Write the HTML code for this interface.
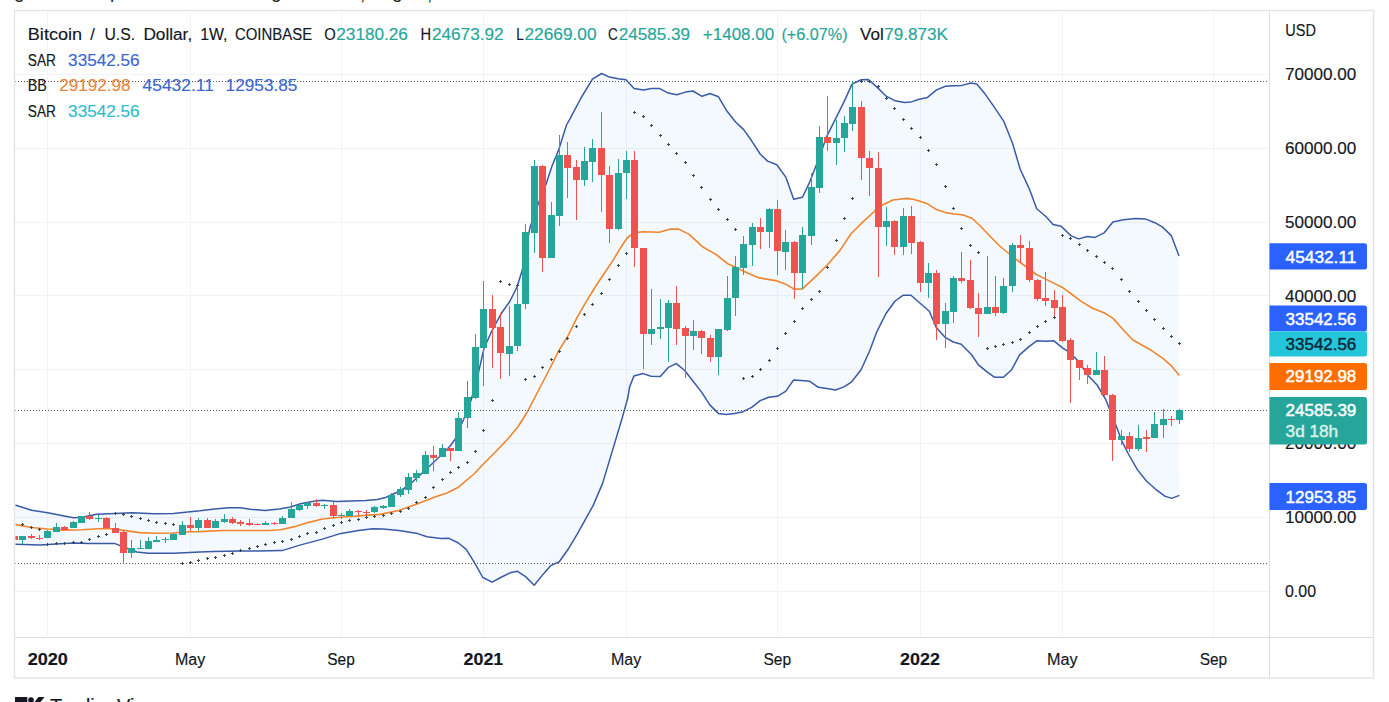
<!DOCTYPE html><html><head><meta charset="utf-8"><title>BTCUSD</title><style>
html,body{margin:0;padding:0;background:#fff;}body{width:1389px;height:702px;overflow:hidden;font-family:"Liberation Sans",sans-serif;}svg{display:block;}text{font-family:"Liberation Sans",sans-serif;font-size:16px;}
</style></head><body>
<svg width="1389" height="702" viewBox="0 0 1389 702">
<rect width="1389" height="702" fill="#fff"/>
<g fill="#222" font-size="19px"><text x="14" y="-2" style="font-size:19px">g</text><text x="110" y="-2" style="font-size:19px">p</text><text x="271" y="-2" style="font-size:19px">g</text><text x="360" y="0" style="font-size:19px">,</text><text x="392" y="-2" style="font-size:19px">g</text><text x="427" y="0" style="font-size:19px">,</text></g>
<rect x="14.5" y="10.5" width="1359" height="667.5" fill="#fff" stroke="#e3e4e8" stroke-width="1.4"/>
<defs><clipPath id="cp"><rect x="15.5" y="11.5" width="1253.5" height="625.5"/></clipPath></defs>
<g stroke="#f2f3f6" stroke-width="1" shape-rendering="crispEdges">
<line x1="47.5" y1="11" x2="47.5" y2="637"/>
<line x1="190.5" y1="11" x2="190.5" y2="637"/>
<line x1="341.5" y1="11" x2="341.5" y2="637"/>
<line x1="483.5" y1="11" x2="483.5" y2="637"/>
<line x1="626.5" y1="11" x2="626.5" y2="637"/>
<line x1="777.5" y1="11" x2="777.5" y2="637"/>
<line x1="920.5" y1="11" x2="920.5" y2="637"/>
<line x1="1062.5" y1="11" x2="1062.5" y2="637"/>
<line x1="1213.5" y1="11" x2="1213.5" y2="637"/>
<line x1="15" y1="74" x2="1269" y2="74"/>
<line x1="15" y1="148" x2="1269" y2="148"/>
<line x1="15" y1="222" x2="1269" y2="222"/>
<line x1="15" y1="295.7" x2="1269" y2="295.7"/>
<line x1="15" y1="369.6" x2="1269" y2="369.6"/>
<line x1="15" y1="443.5" x2="1269" y2="443.5"/>
<line x1="15" y1="517.4" x2="1269" y2="517.4"/>
<line x1="15" y1="591.3" x2="1269" y2="591.3"/>
</g>
<g clip-path="url(#cp)">
<polygon points="14.5,505.0 15.8,505.2 31.6,510.2 47.7,512.8 60.4,515.3 73.4,517.7 82,517.2 96.4,514.3 114.4,513.4 132.4,512.8 154,513.8 173.4,513.4 190,511.7 200,510.8 214.4,508.9 228.8,507.7 240.3,507.7 250.4,509.2 264.8,510.6 279.2,508.9 289.3,507.2 300.8,503.8 312.3,501.4 322.4,500.2 336.8,501.4 351.2,501.1 365.6,500.5 377.1,499.5 385.7,497.4 391.5,494.8 400,491.0 408.5,485.5 416.8,478.0 425.6,469.8 434,462.0 442.4,454.0 450.6,445.5 455.5,438.5 459,430 464,418.5 467.5,409 471.2,400 475.5,384 478.5,372.6 483.8,349 491.3,332 501,313.8 509.5,302 517,287 522.3,270 525.5,250 530,227.6 537,207 546,184.3 552,166 558.6,150.1 566.5,125 570,118.8 580.7,98.5 592.4,79.2 601.6,73.5 609.5,77.1 618.1,78.8 626,79.7 634.1,88.4 643.7,89.9 651.2,88.6 659.3,88.4 668.3,93.1 676.8,94.8 685.4,92.1 692.9,91 702.1,96.3 710,93.5 718.5,96.8 727.1,111.3 735.6,122 743.5,129.4 751.6,140.8 760.2,154 767.6,161.1 776.8,164.7 785.8,177.1 793.7,199.3 802.5,197.2 809.8,181.7 817.8,161.2 826.9,136.1 836,117.9 844,101.9 852,84.1 861.1,79.8 868.4,79.6 877,87.1 886.2,96.2 895.3,100.8 904.4,102.4 911.2,101.9 919.2,99.2 927.5,97.4 936.5,89.9 945.4,86.3 953.5,85.8 961.9,85.4 970.9,83 976.8,83.9 984.3,92.9 994.8,107.9 1003.8,121.3 1012.7,143.8 1020.2,169.2 1029.2,188.6 1036.7,208.7 1045.6,216.2 1053.1,224.5 1061.2,226.3 1071.1,235.9 1078.5,238.9 1087.5,236.5 1095,237.4 1104,232.9 1112.9,222.1 1123.4,219.7 1135.4,218.5 1145.8,219.1 1154.8,222.7 1162.3,226.9 1171.3,235.6 1179,255.9 1179.4,495.4 1171.7,498.4 1164.8,496.1 1155.7,489.3 1146.6,481.3 1137.5,469.9 1128.4,454 1121.5,440.3 1114.7,422 1105.6,399.3 1097.1,385 1088,375.4 1078.9,361.8 1069.8,352.6 1062.9,348.1 1053.8,340.8 1045.8,341.2 1036.7,340.8 1028.7,346.9 1019.6,354.9 1011.7,369.7 1003.4,377.2 994.3,377.2 987,371.8 978.4,364.8 971.4,354.5 961.2,344.3 953.2,342 945.2,337.4 936.1,327.2 929.3,311.2 920.1,303.3 911,295.3 903,295.3 895.1,301 886,313.5 876.8,331.8 869.6,351 861.1,369.8 851.7,381.8 844,386.9 835.4,390 826.9,388.6 818.3,387.3 809.8,381.3 801.2,380.6 793.5,380.1 785.9,391.2 777.3,396.3 768.8,397.2 760.2,400.6 751.7,407.4 743.1,411.7 734.6,413.4 726,414.6 718.3,413.4 709.8,404.9 702.1,392.9 693.5,381.8 684.7,370.5 676.3,363.6 668.3,367.4 660.3,376.6 651,376.3 643.1,373.6 634,375.9 629.6,387 627.6,398.8 621.4,420.8 612,452.1 602.6,483.4 593.2,505.4 577.5,533.6 568.1,549.3 559.3,561.8 550.8,565.6 543,574.4 534.2,585.3 525.8,576.9 517.3,571.2 510.1,572.8 500.7,577.5 492.2,582.2 482.8,577.5 474,561.8 466.2,549.3 458.4,543 449,538.3 441.1,538.6 427,536.7 417.6,533.6 398.8,530.5 382.9,528.9 372.8,528.8 358.4,530.5 341.1,533.4 322.4,539.1 300.8,544.9 282.1,550.6 257.6,550.9 240.3,550.9 214.4,551.4 200,552.1 173.4,553.2 148.5,553.2 136.7,552 123.5,547 114.5,543.4 89.6,543.4 73.5,542.9 56.4,544.1 40,545.0 14.5,544.3" fill="#2196f3" fill-opacity="0.055"/>
<polyline points="14.5,524.4 15.8,524.6 31.6,527.5 47.7,529 64.4,530.1 82,529.7 98.1,528.7 106.5,528.5 114.5,529 123.5,530.4 139.6,532.6 156.6,533.3 173.4,533 190,531.8 200,531.6 221.6,530.5 243.2,530.5 269.1,530.5 280.6,529.8 293.6,526.9 308,522.6 322.4,519 336.8,517.5 351.2,516.5 365.6,515.4 380,514.4 398.8,510.5 417.6,503.8 436.4,496.6 447,493.0 458.4,487.2 474,474 483.4,464.0 495.4,452.0 508.2,438.5 518.2,426.5 526.8,412.8 538.2,391.0 549.6,369 558.7,350.8 567.9,336 577,317.7 586.1,301.8 595.2,287 604.3,273.3 613.5,259.6 620.3,248.2 627.1,238 634,232.7 643.1,231.8 659.2,232.3 670.6,229.1 678.6,229.1 688.8,234.1 702.5,246.7 716.2,254.6 727.6,263.7 735.5,267.2 748,273.3 759.5,277.9 777,280.9 786.3,284.6 794.4,289.3 802.4,288.9 814,278.1 827,265.2 840,250.4 851,233.7 862.2,222.6 874.3,211.5 879.1,206.4 886.2,203.3 892.8,200 897.6,199.5 906.5,198.4 913,199.3 920,201.3 927.5,203.8 936.5,209.6 945.4,212.6 954.4,214 963.4,215 972.3,218.5 981.3,227.0 991.8,238.0 999.1,245.5 1008.2,253.0 1017.4,260.3 1026.5,267.0 1035.6,274 1044.7,278.6 1053.8,283.1 1062.9,287.7 1072.1,294.5 1081.2,301.4 1092.6,308.2 1104,312.7 1113.1,318.4 1122.2,328.7 1132.9,340 1151.2,350.3 1162.6,358.2 1171.7,366.2 1179.4,375.5" fill="none" stroke="#f0852d" stroke-width="1.6" stroke-linejoin="round"/>
<polyline points="14.5,505.0 15.8,505.2 31.6,510.2 47.7,512.8 60.4,515.3 73.4,517.7 82,517.2 96.4,514.3 114.4,513.4 132.4,512.8 154,513.8 173.4,513.4 190,511.7 200,510.8 214.4,508.9 228.8,507.7 240.3,507.7 250.4,509.2 264.8,510.6 279.2,508.9 289.3,507.2 300.8,503.8 312.3,501.4 322.4,500.2 336.8,501.4 351.2,501.1 365.6,500.5 377.1,499.5 385.7,497.4 391.5,494.8 400,491.0 408.5,485.5 416.8,478.0 425.6,469.8 434,462.0 442.4,454.0 450.6,445.5 455.5,438.5 459,430 464,418.5 467.5,409 471.2,400 475.5,384 478.5,372.6 483.8,349 491.3,332 501,313.8 509.5,302 517,287 522.3,270 525.5,250 530,227.6 537,207 546,184.3 552,166 558.6,150.1 566.5,125 570,118.8 580.7,98.5 592.4,79.2 601.6,73.5 609.5,77.1 618.1,78.8 626,79.7 634.1,88.4 643.7,89.9 651.2,88.6 659.3,88.4 668.3,93.1 676.8,94.8 685.4,92.1 692.9,91 702.1,96.3 710,93.5 718.5,96.8 727.1,111.3 735.6,122 743.5,129.4 751.6,140.8 760.2,154 767.6,161.1 776.8,164.7 785.8,177.1 793.7,199.3 802.5,197.2 809.8,181.7 817.8,161.2 826.9,136.1 836,117.9 844,101.9 852,84.1 861.1,79.8 868.4,79.6 877,87.1 886.2,96.2 895.3,100.8 904.4,102.4 911.2,101.9 919.2,99.2 927.5,97.4 936.5,89.9 945.4,86.3 953.5,85.8 961.9,85.4 970.9,83 976.8,83.9 984.3,92.9 994.8,107.9 1003.8,121.3 1012.7,143.8 1020.2,169.2 1029.2,188.6 1036.7,208.7 1045.6,216.2 1053.1,224.5 1061.2,226.3 1071.1,235.9 1078.5,238.9 1087.5,236.5 1095,237.4 1104,232.9 1112.9,222.1 1123.4,219.7 1135.4,218.5 1145.8,219.1 1154.8,222.7 1162.3,226.9 1171.3,235.6 1179,255.9" fill="none" stroke="#3a5aa8" stroke-width="1.5" stroke-linejoin="round"/>
<polyline points="14.5,544.3 40,545.0 56.4,544.1 73.5,542.9 89.6,543.4 114.5,543.4 123.5,547 136.7,552 148.5,553.2 173.4,553.2 200,552.1 214.4,551.4 240.3,550.9 257.6,550.9 282.1,550.6 300.8,544.9 322.4,539.1 341.1,533.4 358.4,530.5 372.8,528.8 382.9,528.9 398.8,530.5 417.6,533.6 427,536.7 441.1,538.6 449,538.3 458.4,543 466.2,549.3 474,561.8 482.8,577.5 492.2,582.2 500.7,577.5 510.1,572.8 517.3,571.2 525.8,576.9 534.2,585.3 543,574.4 550.8,565.6 559.3,561.8 568.1,549.3 577.5,533.6 593.2,505.4 602.6,483.4 612,452.1 621.4,420.8 627.6,398.8 629.6,387 634,375.9 643.1,373.6 651,376.3 660.3,376.6 668.3,367.4 676.3,363.6 684.7,370.5 693.5,381.8 702.1,392.9 709.8,404.9 718.3,413.4 726,414.6 734.6,413.4 743.1,411.7 751.7,407.4 760.2,400.6 768.8,397.2 777.3,396.3 785.9,391.2 793.5,380.1 801.2,380.6 809.8,381.3 818.3,387.3 826.9,388.6 835.4,390 844,386.9 851.7,381.8 861.1,369.8 869.6,351 876.8,331.8 886,313.5 895.1,301 903,295.3 911,295.3 920.1,303.3 929.3,311.2 936.1,327.2 945.2,337.4 953.2,342 961.2,344.3 971.4,354.5 978.4,364.8 987,371.8 994.3,377.2 1003.4,377.2 1011.7,369.7 1019.6,354.9 1028.7,346.9 1036.7,340.8 1045.8,341.2 1053.8,340.8 1062.9,348.1 1069.8,352.6 1078.9,361.8 1088,375.4 1097.1,385 1105.6,399.3 1114.7,422 1121.5,440.3 1128.4,454 1137.5,469.9 1146.6,481.3 1155.7,489.3 1164.8,496.1 1171.7,498.4 1179.4,495.4" fill="none" stroke="#3a5aa8" stroke-width="1.5" stroke-linejoin="round"/>
<line x1="15" y1="81.5" x2="1269" y2="81.5" stroke="#555" stroke-width="1" stroke-dasharray="1 2" shape-rendering="crispEdges"/>
<line x1="15" y1="410.5" x2="1269" y2="410.5" stroke="#555" stroke-width="1" stroke-dasharray="1 2" shape-rendering="crispEdges"/>
<line x1="15" y1="563.5" x2="1269" y2="563.5" stroke="#555" stroke-width="1" stroke-dasharray="1 2" shape-rendering="crispEdges"/>
<g shape-rendering="crispEdges">
<rect x="14" y="535" width="1" height="6" fill="#ef5350"/>
<rect x="11" y="536" width="7" height="4" fill="#ef5350"/>
<rect x="22" y="536" width="1" height="8" fill="#26a69a"/>
<rect x="19" y="536" width="7" height="4" fill="#26a69a"/>
<rect x="31" y="534" width="1" height="5" fill="#ef5350"/>
<rect x="28" y="536" width="7" height="2" fill="#ef5350"/>
<rect x="39" y="535" width="1" height="5" fill="#ef5350"/>
<rect x="36" y="538" width="7" height="1" fill="#ef5350"/>
<rect x="47" y="530" width="1" height="8" fill="#26a69a"/>
<rect x="44" y="531" width="7" height="7" fill="#26a69a"/>
<rect x="56" y="523" width="1" height="9" fill="#26a69a"/>
<rect x="53" y="527" width="7" height="5" fill="#26a69a"/>
<rect x="64" y="526" width="1" height="4" fill="#ef5350"/>
<rect x="61" y="527" width="7" height="3" fill="#ef5350"/>
<rect x="73" y="521" width="1" height="7" fill="#26a69a"/>
<rect x="70" y="522" width="7" height="6" fill="#26a69a"/>
<rect x="81" y="516" width="1" height="7" fill="#26a69a"/>
<rect x="78" y="516" width="7" height="7" fill="#26a69a"/>
<rect x="89" y="512" width="1" height="8" fill="#ef5350"/>
<rect x="86" y="516" width="7" height="3" fill="#ef5350"/>
<rect x="98" y="515" width="1" height="7" fill="#26a69a"/>
<rect x="95" y="518" width="7" height="1" fill="#26a69a"/>
<rect x="106" y="517" width="1" height="11" fill="#ef5350"/>
<rect x="103" y="518" width="7" height="10" fill="#ef5350"/>
<rect x="115" y="523" width="1" height="10" fill="#ef5350"/>
<rect x="112" y="528" width="7" height="5" fill="#ef5350"/>
<rect x="123" y="530" width="1" height="34" fill="#ef5350"/>
<rect x="120" y="532" width="7" height="21" fill="#ef5350"/>
<rect x="131" y="540" width="1" height="18" fill="#26a69a"/>
<rect x="128" y="548" width="7" height="5" fill="#26a69a"/>
<rect x="140" y="540" width="1" height="9" fill="#26a69a"/>
<rect x="137" y="548" width="7" height="1" fill="#26a69a"/>
<rect x="148" y="537" width="1" height="12" fill="#26a69a"/>
<rect x="145" y="541" width="7" height="8" fill="#26a69a"/>
<rect x="156" y="536" width="1" height="6" fill="#26a69a"/>
<rect x="153" y="540" width="7" height="2" fill="#26a69a"/>
<rect x="165" y="537" width="1" height="6" fill="#26a69a"/>
<rect x="162" y="539" width="7" height="1" fill="#26a69a"/>
<rect x="173" y="533" width="1" height="7" fill="#26a69a"/>
<rect x="170" y="534" width="7" height="6" fill="#26a69a"/>
<rect x="182" y="521" width="1" height="14" fill="#26a69a"/>
<rect x="179" y="525" width="7" height="10" fill="#26a69a"/>
<rect x="190" y="517" width="1" height="14" fill="#ef5350"/>
<rect x="187" y="525" width="7" height="3" fill="#ef5350"/>
<rect x="198" y="518" width="1" height="13" fill="#26a69a"/>
<rect x="195" y="520" width="7" height="8" fill="#26a69a"/>
<rect x="207" y="518" width="1" height="10" fill="#ef5350"/>
<rect x="204" y="520" width="7" height="8" fill="#ef5350"/>
<rect x="215" y="519" width="1" height="9" fill="#26a69a"/>
<rect x="212" y="521" width="7" height="7" fill="#26a69a"/>
<rect x="224" y="514" width="1" height="9" fill="#26a69a"/>
<rect x="221" y="519" width="7" height="3" fill="#26a69a"/>
<rect x="232" y="517" width="1" height="7" fill="#ef5350"/>
<rect x="229" y="519" width="7" height="4" fill="#ef5350"/>
<rect x="240" y="520" width="1" height="6" fill="#ef5350"/>
<rect x="237" y="522" width="7" height="2" fill="#ef5350"/>
<rect x="249" y="519" width="1" height="7" fill="#ef5350"/>
<rect x="246" y="523" width="7" height="2" fill="#ef5350"/>
<rect x="257" y="523" width="1" height="2" fill="#ef5350"/>
<rect x="254" y="524" width="7" height="1" fill="#ef5350"/>
<rect x="265" y="521" width="1" height="4" fill="#26a69a"/>
<rect x="262" y="523" width="7" height="2" fill="#26a69a"/>
<rect x="274" y="522" width="1" height="3" fill="#ef5350"/>
<rect x="271" y="523" width="7" height="1" fill="#ef5350"/>
<rect x="282" y="516" width="1" height="8" fill="#26a69a"/>
<rect x="279" y="518" width="7" height="6" fill="#26a69a"/>
<rect x="291" y="502" width="1" height="16" fill="#26a69a"/>
<rect x="288" y="509" width="7" height="9" fill="#26a69a"/>
<rect x="299" y="503" width="1" height="8" fill="#26a69a"/>
<rect x="296" y="505" width="7" height="5" fill="#26a69a"/>
<rect x="307" y="502" width="1" height="7" fill="#26a69a"/>
<rect x="304" y="503" width="7" height="3" fill="#26a69a"/>
<rect x="316" y="499" width="1" height="8" fill="#ef5350"/>
<rect x="313" y="503" width="7" height="3" fill="#ef5350"/>
<rect x="324" y="504" width="1" height="5" fill="#26a69a"/>
<rect x="321" y="505" width="7" height="1" fill="#26a69a"/>
<rect x="333" y="502" width="1" height="16" fill="#ef5350"/>
<rect x="330" y="505" width="7" height="11" fill="#ef5350"/>
<rect x="341" y="513" width="1" height="6" fill="#26a69a"/>
<rect x="338" y="515" width="7" height="1" fill="#26a69a"/>
<rect x="349" y="509" width="1" height="7" fill="#26a69a"/>
<rect x="346" y="511" width="7" height="5" fill="#26a69a"/>
<rect x="358" y="510" width="1" height="6" fill="#ef5350"/>
<rect x="355" y="511" width="7" height="1" fill="#ef5350"/>
<rect x="366" y="510" width="1" height="7" fill="#ef5350"/>
<rect x="363" y="512" width="7" height="1" fill="#ef5350"/>
<rect x="374" y="506" width="1" height="7" fill="#26a69a"/>
<rect x="371" y="507" width="7" height="5" fill="#26a69a"/>
<rect x="383" y="505" width="1" height="4" fill="#26a69a"/>
<rect x="380" y="506" width="7" height="2" fill="#26a69a"/>
<rect x="391" y="493" width="1" height="14" fill="#26a69a"/>
<rect x="388" y="495" width="7" height="12" fill="#26a69a"/>
<rect x="400" y="487" width="1" height="10" fill="#26a69a"/>
<rect x="397" y="489" width="7" height="6" fill="#26a69a"/>
<rect x="408" y="473" width="1" height="21" fill="#26a69a"/>
<rect x="405" y="477" width="7" height="13" fill="#26a69a"/>
<rect x="416" y="470" width="1" height="12" fill="#26a69a"/>
<rect x="413" y="473" width="7" height="5" fill="#26a69a"/>
<rect x="425" y="451" width="1" height="23" fill="#26a69a"/>
<rect x="422" y="455" width="7" height="19" fill="#26a69a"/>
<rect x="433" y="446" width="1" height="25" fill="#ef5350"/>
<rect x="430" y="455" width="7" height="3" fill="#ef5350"/>
<rect x="442" y="444" width="1" height="13" fill="#26a69a"/>
<rect x="439" y="448" width="7" height="9" fill="#26a69a"/>
<rect x="450" y="448" width="1" height="13" fill="#ef5350"/>
<rect x="447" y="448" width="7" height="3" fill="#ef5350"/>
<rect x="458" y="412" width="1" height="39" fill="#26a69a"/>
<rect x="455" y="418" width="7" height="33" fill="#26a69a"/>
<rect x="467" y="381" width="1" height="47" fill="#26a69a"/>
<rect x="464" y="397" width="7" height="21" fill="#26a69a"/>
<rect x="475" y="334" width="1" height="65" fill="#26a69a"/>
<rect x="472" y="347" width="7" height="51" fill="#26a69a"/>
<rect x="483" y="281" width="1" height="105" fill="#26a69a"/>
<rect x="480" y="309" width="7" height="39" fill="#26a69a"/>
<rect x="492" y="295" width="1" height="73" fill="#ef5350"/>
<rect x="489" y="309" width="7" height="19" fill="#ef5350"/>
<rect x="500" y="313" width="1" height="66" fill="#ef5350"/>
<rect x="497" y="327" width="7" height="26" fill="#ef5350"/>
<rect x="509" y="306" width="1" height="70" fill="#26a69a"/>
<rect x="506" y="346" width="7" height="8" fill="#26a69a"/>
<rect x="517" y="285" width="1" height="66" fill="#26a69a"/>
<rect x="514" y="304" width="7" height="42" fill="#26a69a"/>
<rect x="525" y="224" width="1" height="85" fill="#26a69a"/>
<rect x="522" y="232" width="7" height="72" fill="#26a69a"/>
<rect x="534" y="160" width="1" height="93" fill="#26a69a"/>
<rect x="531" y="166" width="7" height="67" fill="#26a69a"/>
<rect x="542" y="165" width="1" height="107" fill="#ef5350"/>
<rect x="539" y="166" width="7" height="92" fill="#ef5350"/>
<rect x="551" y="202" width="1" height="56" fill="#26a69a"/>
<rect x="548" y="215" width="7" height="43" fill="#26a69a"/>
<rect x="559" y="135" width="1" height="91" fill="#26a69a"/>
<rect x="556" y="155" width="7" height="61" fill="#26a69a"/>
<rect x="567" y="142" width="1" height="56" fill="#ef5350"/>
<rect x="564" y="155" width="7" height="13" fill="#ef5350"/>
<rect x="576" y="160" width="1" height="60" fill="#ef5350"/>
<rect x="573" y="167" width="7" height="13" fill="#ef5350"/>
<rect x="584" y="147" width="1" height="39" fill="#26a69a"/>
<rect x="581" y="161" width="7" height="19" fill="#26a69a"/>
<rect x="592" y="139" width="1" height="43" fill="#26a69a"/>
<rect x="589" y="148" width="7" height="14" fill="#26a69a"/>
<rect x="601" y="112" width="1" height="100" fill="#ef5350"/>
<rect x="598" y="148" width="7" height="27" fill="#ef5350"/>
<rect x="609" y="166" width="1" height="77" fill="#ef5350"/>
<rect x="606" y="175" width="7" height="54" fill="#ef5350"/>
<rect x="618" y="159" width="1" height="71" fill="#26a69a"/>
<rect x="615" y="173" width="7" height="56" fill="#26a69a"/>
<rect x="626" y="151" width="1" height="48" fill="#26a69a"/>
<rect x="623" y="160" width="7" height="13" fill="#26a69a"/>
<rect x="634" y="151" width="1" height="116" fill="#ef5350"/>
<rect x="631" y="160" width="7" height="88" fill="#ef5350"/>
<rect x="643" y="248" width="1" height="121" fill="#ef5350"/>
<rect x="640" y="248" width="7" height="86" fill="#ef5350"/>
<rect x="651" y="289" width="1" height="56" fill="#26a69a"/>
<rect x="648" y="329" width="7" height="5" fill="#26a69a"/>
<rect x="660" y="299" width="1" height="40" fill="#26a69a"/>
<rect x="657" y="327" width="7" height="2" fill="#26a69a"/>
<rect x="668" y="300" width="1" height="62" fill="#26a69a"/>
<rect x="665" y="303" width="7" height="25" fill="#26a69a"/>
<rect x="676" y="286" width="1" height="59" fill="#ef5350"/>
<rect x="673" y="303" width="7" height="26" fill="#ef5350"/>
<rect x="685" y="326" width="1" height="52" fill="#ef5350"/>
<rect x="682" y="328" width="7" height="8" fill="#ef5350"/>
<rect x="693" y="320" width="1" height="30" fill="#26a69a"/>
<rect x="690" y="331" width="7" height="5" fill="#26a69a"/>
<rect x="701" y="330" width="1" height="24" fill="#ef5350"/>
<rect x="698" y="331" width="7" height="7" fill="#ef5350"/>
<rect x="710" y="335" width="1" height="27" fill="#ef5350"/>
<rect x="707" y="338" width="7" height="19" fill="#ef5350"/>
<rect x="718" y="329" width="1" height="46" fill="#26a69a"/>
<rect x="715" y="329" width="7" height="28" fill="#26a69a"/>
<rect x="727" y="276" width="1" height="55" fill="#26a69a"/>
<rect x="724" y="298" width="7" height="32" fill="#26a69a"/>
<rect x="735" y="256" width="1" height="60" fill="#26a69a"/>
<rect x="732" y="267" width="7" height="31" fill="#26a69a"/>
<rect x="743" y="236" width="1" height="39" fill="#26a69a"/>
<rect x="740" y="244" width="7" height="24" fill="#26a69a"/>
<rect x="752" y="223" width="1" height="43" fill="#26a69a"/>
<rect x="749" y="227" width="7" height="18" fill="#26a69a"/>
<rect x="760" y="218" width="1" height="31" fill="#ef5350"/>
<rect x="757" y="227" width="7" height="5" fill="#ef5350"/>
<rect x="769" y="208" width="1" height="40" fill="#26a69a"/>
<rect x="766" y="209" width="7" height="23" fill="#26a69a"/>
<rect x="777" y="200" width="1" height="75" fill="#ef5350"/>
<rect x="774" y="209" width="7" height="42" fill="#ef5350"/>
<rect x="785" y="230" width="1" height="40" fill="#26a69a"/>
<rect x="782" y="242" width="7" height="10" fill="#26a69a"/>
<rect x="794" y="241" width="1" height="58" fill="#ef5350"/>
<rect x="791" y="242" width="7" height="31" fill="#ef5350"/>
<rect x="802" y="227" width="1" height="62" fill="#26a69a"/>
<rect x="799" y="235" width="7" height="38" fill="#26a69a"/>
<rect x="811" y="173" width="1" height="72" fill="#26a69a"/>
<rect x="808" y="187" width="7" height="49" fill="#26a69a"/>
<rect x="819" y="126" width="1" height="67" fill="#26a69a"/>
<rect x="816" y="137" width="7" height="51" fill="#26a69a"/>
<rect x="827" y="96" width="1" height="55" fill="#ef5350"/>
<rect x="824" y="137" width="7" height="6" fill="#ef5350"/>
<rect x="836" y="120" width="1" height="45" fill="#26a69a"/>
<rect x="833" y="138" width="7" height="5" fill="#26a69a"/>
<rect x="844" y="116" width="1" height="36" fill="#26a69a"/>
<rect x="841" y="123" width="7" height="15" fill="#26a69a"/>
<rect x="852" y="81" width="1" height="50" fill="#26a69a"/>
<rect x="849" y="107" width="7" height="17" fill="#26a69a"/>
<rect x="861" y="101" width="1" height="79" fill="#ef5350"/>
<rect x="858" y="107" width="7" height="51" fill="#ef5350"/>
<rect x="869" y="151" width="1" height="45" fill="#ef5350"/>
<rect x="866" y="158" width="7" height="10" fill="#ef5350"/>
<rect x="878" y="152" width="1" height="125" fill="#ef5350"/>
<rect x="875" y="168" width="7" height="59" fill="#ef5350"/>
<rect x="886" y="207" width="1" height="39" fill="#26a69a"/>
<rect x="883" y="221" width="7" height="6" fill="#26a69a"/>
<rect x="894" y="220" width="1" height="35" fill="#ef5350"/>
<rect x="891" y="221" width="7" height="26" fill="#ef5350"/>
<rect x="903" y="208" width="1" height="47" fill="#26a69a"/>
<rect x="900" y="216" width="7" height="31" fill="#26a69a"/>
<rect x="911" y="206" width="1" height="48" fill="#ef5350"/>
<rect x="908" y="216" width="7" height="27" fill="#ef5350"/>
<rect x="920" y="241" width="1" height="51" fill="#ef5350"/>
<rect x="917" y="242" width="7" height="41" fill="#ef5350"/>
<rect x="928" y="263" width="1" height="35" fill="#26a69a"/>
<rect x="925" y="273" width="7" height="10" fill="#26a69a"/>
<rect x="936" y="270" width="1" height="70" fill="#ef5350"/>
<rect x="933" y="273" width="7" height="51" fill="#ef5350"/>
<rect x="945" y="303" width="1" height="45" fill="#26a69a"/>
<rect x="942" y="311" width="7" height="13" fill="#26a69a"/>
<rect x="953" y="276" width="1" height="47" fill="#26a69a"/>
<rect x="950" y="278" width="7" height="34" fill="#26a69a"/>
<rect x="961" y="252" width="1" height="31" fill="#ef5350"/>
<rect x="958" y="278" width="7" height="3" fill="#ef5350"/>
<rect x="970" y="260" width="1" height="49" fill="#ef5350"/>
<rect x="967" y="280" width="7" height="28" fill="#ef5350"/>
<rect x="978" y="293" width="1" height="44" fill="#ef5350"/>
<rect x="975" y="308" width="7" height="6" fill="#ef5350"/>
<rect x="987" y="256" width="1" height="58" fill="#26a69a"/>
<rect x="984" y="307" width="7" height="7" fill="#26a69a"/>
<rect x="995" y="276" width="1" height="40" fill="#ef5350"/>
<rect x="992" y="307" width="7" height="6" fill="#ef5350"/>
<rect x="1003" y="278" width="1" height="36" fill="#26a69a"/>
<rect x="1000" y="286" width="7" height="27" fill="#26a69a"/>
<rect x="1012" y="243" width="1" height="49" fill="#26a69a"/>
<rect x="1009" y="245" width="7" height="41" fill="#26a69a"/>
<rect x="1020" y="235" width="1" height="28" fill="#ef5350"/>
<rect x="1017" y="245" width="7" height="3" fill="#ef5350"/>
<rect x="1029" y="241" width="1" height="41" fill="#ef5350"/>
<rect x="1026" y="248" width="7" height="32" fill="#ef5350"/>
<rect x="1037" y="279" width="1" height="22" fill="#ef5350"/>
<rect x="1034" y="280" width="7" height="19" fill="#ef5350"/>
<rect x="1045" y="272" width="1" height="34" fill="#ef5350"/>
<rect x="1042" y="298" width="7" height="3" fill="#ef5350"/>
<rect x="1054" y="290" width="1" height="27" fill="#ef5350"/>
<rect x="1051" y="300" width="7" height="8" fill="#ef5350"/>
<rect x="1062" y="295" width="1" height="47" fill="#ef5350"/>
<rect x="1059" y="307" width="7" height="34" fill="#ef5350"/>
<rect x="1070" y="338" width="1" height="65" fill="#ef5350"/>
<rect x="1067" y="340" width="7" height="20" fill="#ef5350"/>
<rect x="1079" y="360" width="1" height="20" fill="#ef5350"/>
<rect x="1076" y="360" width="7" height="8" fill="#ef5350"/>
<rect x="1087" y="365" width="1" height="19" fill="#ef5350"/>
<rect x="1084" y="368" width="7" height="7" fill="#ef5350"/>
<rect x="1096" y="352" width="1" height="23" fill="#26a69a"/>
<rect x="1093" y="370" width="7" height="5" fill="#26a69a"/>
<rect x="1104" y="356" width="1" height="40" fill="#ef5350"/>
<rect x="1101" y="370" width="7" height="25" fill="#ef5350"/>
<rect x="1112" y="394" width="1" height="67" fill="#ef5350"/>
<rect x="1109" y="395" width="7" height="45" fill="#ef5350"/>
<rect x="1121" y="430" width="1" height="15" fill="#26a69a"/>
<rect x="1118" y="436" width="7" height="4" fill="#26a69a"/>
<rect x="1129" y="432" width="1" height="20" fill="#ef5350"/>
<rect x="1126" y="436" width="7" height="13" fill="#ef5350"/>
<rect x="1138" y="425" width="1" height="26" fill="#26a69a"/>
<rect x="1135" y="438" width="7" height="11" fill="#26a69a"/>
<rect x="1146" y="430" width="1" height="22" fill="#ef5350"/>
<rect x="1143" y="437" width="7" height="2" fill="#ef5350"/>
<rect x="1154" y="412" width="1" height="26" fill="#26a69a"/>
<rect x="1151" y="424" width="7" height="14" fill="#26a69a"/>
<rect x="1163" y="409" width="1" height="29" fill="#26a69a"/>
<rect x="1160" y="419" width="7" height="6" fill="#26a69a"/>
<rect x="1171" y="416" width="1" height="10" fill="#ef5350"/>
<rect x="1168" y="419" width="7" height="1" fill="#ef5350"/>
<rect x="1179" y="409" width="1" height="15" fill="#26a69a"/>
<rect x="1176" y="410" width="7" height="10" fill="#26a69a"/>
</g>
<g fill="#37474f" shape-rendering="crispEdges">
<rect x="21" y="524" width="3" height="1"/><rect x="22" y="523" width="1" height="3"/>
<rect x="30" y="527" width="3" height="1"/><rect x="31" y="526" width="1" height="3"/>
<rect x="38" y="529" width="3" height="1"/><rect x="39" y="528" width="1" height="3"/>
<rect x="46" y="544" width="3" height="1"/><rect x="47" y="543" width="1" height="3"/>
<rect x="55" y="543" width="3" height="1"/><rect x="56" y="542" width="1" height="3"/>
<rect x="63" y="543" width="3" height="1"/><rect x="64" y="542" width="1" height="3"/>
<rect x="72" y="542" width="3" height="1"/><rect x="73" y="541" width="1" height="3"/>
<rect x="80" y="542" width="3" height="1"/><rect x="81" y="541" width="1" height="3"/>
<rect x="88" y="539" width="3" height="1"/><rect x="89" y="538" width="1" height="3"/>
<rect x="97" y="536" width="3" height="1"/><rect x="98" y="535" width="1" height="3"/>
<rect x="105" y="534" width="3" height="1"/><rect x="106" y="533" width="1" height="3"/>
<rect x="114" y="513" width="3" height="1"/><rect x="115" y="512" width="1" height="3"/>
<rect x="122" y="514" width="3" height="1"/><rect x="123" y="513" width="1" height="3"/>
<rect x="130" y="516" width="3" height="1"/><rect x="131" y="515" width="1" height="3"/>
<rect x="139" y="518" width="3" height="1"/><rect x="140" y="517" width="1" height="3"/>
<rect x="147" y="520" width="3" height="1"/><rect x="148" y="519" width="1" height="3"/>
<rect x="155" y="522" width="3" height="1"/><rect x="156" y="521" width="1" height="3"/>
<rect x="164" y="523" width="3" height="1"/><rect x="165" y="522" width="1" height="3"/>
<rect x="172" y="524" width="3" height="1"/><rect x="173" y="523" width="1" height="3"/>
<rect x="181" y="563" width="3" height="1"/><rect x="182" y="562" width="1" height="3"/>
<rect x="189" y="562" width="3" height="1"/><rect x="190" y="561" width="1" height="3"/>
<rect x="197" y="560" width="3" height="1"/><rect x="198" y="559" width="1" height="3"/>
<rect x="206" y="558" width="3" height="1"/><rect x="207" y="557" width="1" height="3"/>
<rect x="214" y="557" width="3" height="1"/><rect x="215" y="556" width="1" height="3"/>
<rect x="223" y="555" width="3" height="1"/><rect x="224" y="554" width="1" height="3"/>
<rect x="231" y="553" width="3" height="1"/><rect x="232" y="552" width="1" height="3"/>
<rect x="239" y="550" width="3" height="1"/><rect x="240" y="549" width="1" height="3"/>
<rect x="248" y="548" width="3" height="1"/><rect x="249" y="547" width="1" height="3"/>
<rect x="256" y="546" width="3" height="1"/><rect x="257" y="545" width="1" height="3"/>
<rect x="264" y="544" width="3" height="1"/><rect x="265" y="543" width="1" height="3"/>
<rect x="273" y="542" width="3" height="1"/><rect x="274" y="541" width="1" height="3"/>
<rect x="281" y="541" width="3" height="1"/><rect x="282" y="540" width="1" height="3"/>
<rect x="290" y="539" width="3" height="1"/><rect x="291" y="538" width="1" height="3"/>
<rect x="298" y="536" width="3" height="1"/><rect x="299" y="535" width="1" height="3"/>
<rect x="306" y="533" width="3" height="1"/><rect x="307" y="532" width="1" height="3"/>
<rect x="315" y="532" width="3" height="1"/><rect x="316" y="531" width="1" height="3"/>
<rect x="323" y="528" width="3" height="1"/><rect x="324" y="527" width="1" height="3"/>
<rect x="332" y="525" width="3" height="1"/><rect x="333" y="524" width="1" height="3"/>
<rect x="340" y="522" width="3" height="1"/><rect x="341" y="521" width="1" height="3"/>
<rect x="348" y="520" width="3" height="1"/><rect x="349" y="519" width="1" height="3"/>
<rect x="357" y="519" width="3" height="1"/><rect x="358" y="518" width="1" height="3"/>
<rect x="365" y="517" width="3" height="1"/><rect x="366" y="516" width="1" height="3"/>
<rect x="373" y="516" width="3" height="1"/><rect x="374" y="515" width="1" height="3"/>
<rect x="382" y="515" width="3" height="1"/><rect x="383" y="514" width="1" height="3"/>
<rect x="390" y="513" width="3" height="1"/><rect x="391" y="512" width="1" height="3"/>
<rect x="399" y="511" width="3" height="1"/><rect x="400" y="510" width="1" height="3"/>
<rect x="407" y="508" width="3" height="1"/><rect x="408" y="507" width="1" height="3"/>
<rect x="415" y="502" width="3" height="1"/><rect x="416" y="501" width="1" height="3"/>
<rect x="424" y="497" width="3" height="1"/><rect x="425" y="496" width="1" height="3"/>
<rect x="432" y="487" width="3" height="1"/><rect x="433" y="486" width="1" height="3"/>
<rect x="441" y="479" width="3" height="1"/><rect x="442" y="478" width="1" height="3"/>
<rect x="449" y="472" width="3" height="1"/><rect x="450" y="471" width="1" height="3"/>
<rect x="457" y="467" width="3" height="1"/><rect x="458" y="466" width="1" height="3"/>
<rect x="466" y="462" width="3" height="1"/><rect x="467" y="461" width="1" height="3"/>
<rect x="474" y="451" width="3" height="1"/><rect x="475" y="450" width="1" height="3"/>
<rect x="482" y="430" width="3" height="1"/><rect x="483" y="429" width="1" height="3"/>
<rect x="491" y="400" width="3" height="1"/><rect x="492" y="399" width="1" height="3"/>
<rect x="499" y="281" width="3" height="1"/><rect x="500" y="280" width="1" height="3"/>
<rect x="508" y="284" width="3" height="1"/><rect x="509" y="283" width="1" height="3"/>
<rect x="516" y="285" width="3" height="1"/><rect x="517" y="284" width="1" height="3"/>
<rect x="524" y="379" width="3" height="1"/><rect x="525" y="378" width="1" height="3"/>
<rect x="533" y="376" width="3" height="1"/><rect x="534" y="375" width="1" height="3"/>
<rect x="541" y="367" width="3" height="1"/><rect x="542" y="366" width="1" height="3"/>
<rect x="550" y="359" width="3" height="1"/><rect x="551" y="358" width="1" height="3"/>
<rect x="558" y="351" width="3" height="1"/><rect x="559" y="350" width="1" height="3"/>
<rect x="566" y="338" width="3" height="1"/><rect x="567" y="337" width="1" height="3"/>
<rect x="575" y="326" width="3" height="1"/><rect x="576" y="325" width="1" height="3"/>
<rect x="583" y="314" width="3" height="1"/><rect x="584" y="313" width="1" height="3"/>
<rect x="591" y="304" width="3" height="1"/><rect x="592" y="303" width="1" height="3"/>
<rect x="600" y="293" width="3" height="1"/><rect x="601" y="292" width="1" height="3"/>
<rect x="608" y="279" width="3" height="1"/><rect x="609" y="278" width="1" height="3"/>
<rect x="617" y="265" width="3" height="1"/><rect x="618" y="264" width="1" height="3"/>
<rect x="625" y="253" width="3" height="1"/><rect x="626" y="252" width="1" height="3"/>
<rect x="633" y="112" width="3" height="1"/><rect x="634" y="111" width="1" height="3"/>
<rect x="642" y="116" width="3" height="1"/><rect x="643" y="115" width="1" height="3"/>
<rect x="650" y="125" width="3" height="1"/><rect x="651" y="124" width="1" height="3"/>
<rect x="659" y="135" width="3" height="1"/><rect x="660" y="134" width="1" height="3"/>
<rect x="667" y="144" width="3" height="1"/><rect x="668" y="143" width="1" height="3"/>
<rect x="675" y="153" width="3" height="1"/><rect x="676" y="152" width="1" height="3"/>
<rect x="684" y="162" width="3" height="1"/><rect x="685" y="161" width="1" height="3"/>
<rect x="692" y="175" width="3" height="1"/><rect x="693" y="174" width="1" height="3"/>
<rect x="700" y="187" width="3" height="1"/><rect x="701" y="186" width="1" height="3"/>
<rect x="709" y="199" width="3" height="1"/><rect x="710" y="198" width="1" height="3"/>
<rect x="717" y="209" width="3" height="1"/><rect x="718" y="208" width="1" height="3"/>
<rect x="726" y="219" width="3" height="1"/><rect x="727" y="218" width="1" height="3"/>
<rect x="734" y="229" width="3" height="1"/><rect x="735" y="228" width="1" height="3"/>
<rect x="742" y="378" width="3" height="1"/><rect x="743" y="377" width="1" height="3"/>
<rect x="751" y="376" width="3" height="1"/><rect x="752" y="375" width="1" height="3"/>
<rect x="759" y="369" width="3" height="1"/><rect x="760" y="368" width="1" height="3"/>
<rect x="768" y="360" width="3" height="1"/><rect x="769" y="359" width="1" height="3"/>
<rect x="776" y="348" width="3" height="1"/><rect x="777" y="347" width="1" height="3"/>
<rect x="784" y="333" width="3" height="1"/><rect x="785" y="332" width="1" height="3"/>
<rect x="793" y="321" width="3" height="1"/><rect x="794" y="320" width="1" height="3"/>
<rect x="801" y="308" width="3" height="1"/><rect x="802" y="307" width="1" height="3"/>
<rect x="810" y="299" width="3" height="1"/><rect x="811" y="298" width="1" height="3"/>
<rect x="818" y="291" width="3" height="1"/><rect x="819" y="290" width="1" height="3"/>
<rect x="826" y="267" width="3" height="1"/><rect x="827" y="266" width="1" height="3"/>
<rect x="835" y="240" width="3" height="1"/><rect x="836" y="239" width="1" height="3"/>
<rect x="843" y="218" width="3" height="1"/><rect x="844" y="217" width="1" height="3"/>
<rect x="851" y="198" width="3" height="1"/><rect x="852" y="197" width="1" height="3"/>
<rect x="860" y="81" width="3" height="1"/><rect x="861" y="80" width="1" height="3"/>
<rect x="868" y="81" width="3" height="1"/><rect x="869" y="80" width="1" height="3"/>
<rect x="877" y="86" width="3" height="1"/><rect x="878" y="85" width="1" height="3"/>
<rect x="885" y="98" width="3" height="1"/><rect x="886" y="97" width="1" height="3"/>
<rect x="893" y="108" width="3" height="1"/><rect x="894" y="107" width="1" height="3"/>
<rect x="902" y="119" width="3" height="1"/><rect x="903" y="118" width="1" height="3"/>
<rect x="910" y="128" width="3" height="1"/><rect x="911" y="127" width="1" height="3"/>
<rect x="919" y="137" width="3" height="1"/><rect x="920" y="136" width="1" height="3"/>
<rect x="927" y="150" width="3" height="1"/><rect x="928" y="149" width="1" height="3"/>
<rect x="935" y="164" width="3" height="1"/><rect x="936" y="163" width="1" height="3"/>
<rect x="944" y="186" width="3" height="1"/><rect x="945" y="185" width="1" height="3"/>
<rect x="952" y="208" width="3" height="1"/><rect x="953" y="207" width="1" height="3"/>
<rect x="960" y="228" width="3" height="1"/><rect x="961" y="227" width="1" height="3"/>
<rect x="969" y="245" width="3" height="1"/><rect x="970" y="244" width="1" height="3"/>
<rect x="977" y="252" width="3" height="1"/><rect x="978" y="251" width="1" height="3"/>
<rect x="986" y="348" width="3" height="1"/><rect x="987" y="347" width="1" height="3"/>
<rect x="994" y="346" width="3" height="1"/><rect x="995" y="345" width="1" height="3"/>
<rect x="1002" y="344" width="3" height="1"/><rect x="1003" y="343" width="1" height="3"/>
<rect x="1011" y="342" width="3" height="1"/><rect x="1012" y="341" width="1" height="3"/>
<rect x="1019" y="339" width="3" height="1"/><rect x="1020" y="338" width="1" height="3"/>
<rect x="1028" y="332" width="3" height="1"/><rect x="1029" y="331" width="1" height="3"/>
<rect x="1036" y="326" width="3" height="1"/><rect x="1037" y="325" width="1" height="3"/>
<rect x="1044" y="321" width="3" height="1"/><rect x="1045" y="320" width="1" height="3"/>
<rect x="1053" y="317" width="3" height="1"/><rect x="1054" y="316" width="1" height="3"/>
<rect x="1061" y="235" width="3" height="1"/><rect x="1062" y="234" width="1" height="3"/>
<rect x="1069" y="238" width="3" height="1"/><rect x="1070" y="237" width="1" height="3"/>
<rect x="1078" y="244" width="3" height="1"/><rect x="1079" y="243" width="1" height="3"/>
<rect x="1086" y="250" width="3" height="1"/><rect x="1087" y="249" width="1" height="3"/>
<rect x="1095" y="256" width="3" height="1"/><rect x="1096" y="255" width="1" height="3"/>
<rect x="1103" y="262" width="3" height="1"/><rect x="1104" y="261" width="1" height="3"/>
<rect x="1111" y="268" width="3" height="1"/><rect x="1112" y="267" width="1" height="3"/>
<rect x="1120" y="279" width="3" height="1"/><rect x="1121" y="278" width="1" height="3"/>
<rect x="1128" y="291" width="3" height="1"/><rect x="1129" y="290" width="1" height="3"/>
<rect x="1137" y="301" width="3" height="1"/><rect x="1138" y="300" width="1" height="3"/>
<rect x="1145" y="310" width="3" height="1"/><rect x="1146" y="309" width="1" height="3"/>
<rect x="1153" y="319" width="3" height="1"/><rect x="1154" y="318" width="1" height="3"/>
<rect x="1162" y="328" width="3" height="1"/><rect x="1163" y="327" width="1" height="3"/>
<rect x="1170" y="336" width="3" height="1"/><rect x="1171" y="335" width="1" height="3"/>
<rect x="1178" y="343" width="3" height="1"/><rect x="1179" y="342" width="1" height="3"/>
</g>
</g>
<g stroke="#dcdde2" stroke-width="1" shape-rendering="crispEdges"><line x1="1269.5" y1="11" x2="1269.5" y2="678"/><line x1="15" y1="637.5" x2="1374" y2="637.5"/></g>
<text x="27.8" y="39.6" fill="#131722" stroke="#131722" stroke-width="0.15" textLength="54.3" lengthAdjust="spacingAndGlyphs" style="font-size:16px">Bitcoin</text>
<text x="90.3" y="39.6" fill="#131722" stroke="#131722" stroke-width="0.15" textLength="4.6" lengthAdjust="spacingAndGlyphs" style="font-size:16px">/</text>
<text x="104.5" y="39.6" fill="#131722" stroke="#131722" stroke-width="0.15" textLength="30.6" lengthAdjust="spacingAndGlyphs" style="font-size:16px">U.S.</text>
<text x="143.4" y="39.6" fill="#131722" stroke="#131722" stroke-width="0.15" textLength="48.8" lengthAdjust="spacingAndGlyphs" style="font-size:16px">Dollar,</text>
<text x="200.2" y="39.6" fill="#131722" stroke="#131722" stroke-width="0.15" textLength="27.3" lengthAdjust="spacingAndGlyphs" style="font-size:16px">1W,</text>
<text x="234.9" y="39.6" fill="#131722" stroke="#131722" stroke-width="0.15" textLength="77.2" lengthAdjust="spacingAndGlyphs" style="font-size:16px">COINBASE</text>
<text x="324.2" y="39.6" fill="#131722" stroke="#131722" stroke-width="0.15" textLength="11.5" lengthAdjust="spacingAndGlyphs" style="font-size:16px">O</text>
<text x="336.3" y="39.6" fill="#26a69a" stroke="#26a69a" stroke-width="0.15" textLength="71.6" lengthAdjust="spacingAndGlyphs" style="font-size:16px">23180.26</text>
<text x="420.6" y="39.6" fill="#131722" stroke="#131722" stroke-width="0.15" textLength="10.6" lengthAdjust="spacingAndGlyphs" style="font-size:16px">H</text>
<text x="431.9" y="39.6" fill="#26a69a" stroke="#26a69a" stroke-width="0.15" textLength="71.8" lengthAdjust="spacingAndGlyphs" style="font-size:16px">24673.92</text>
<text x="516.3" y="39.6" fill="#131722" stroke="#131722" stroke-width="0.15" textLength="7.6" lengthAdjust="spacingAndGlyphs" style="font-size:16px">L</text>
<text x="524.5" y="39.6" fill="#26a69a" stroke="#26a69a" stroke-width="0.15" textLength="72" lengthAdjust="spacingAndGlyphs" style="font-size:16px">22669.00</text>
<text x="608" y="39.6" fill="#131722" stroke="#131722" stroke-width="0.15" textLength="9.8" lengthAdjust="spacingAndGlyphs" style="font-size:16px">C</text>
<text x="618.7" y="39.6" fill="#26a69a" stroke="#26a69a" stroke-width="0.15" textLength="71.4" lengthAdjust="spacingAndGlyphs" style="font-size:16px">24585.39</text>
<text x="702.8" y="39.6" fill="#26a69a" stroke="#26a69a" stroke-width="0.15" textLength="71.4" lengthAdjust="spacingAndGlyphs" style="font-size:16px">+1408.00</text>
<text x="781.4" y="39.6" fill="#26a69a" stroke="#26a69a" stroke-width="0.15" textLength="66.3" lengthAdjust="spacingAndGlyphs" style="font-size:16px">(+6.07%)</text>
<text x="860" y="39.6" fill="#131722" stroke="#131722" stroke-width="0.15" textLength="23.7" lengthAdjust="spacingAndGlyphs" style="font-size:16px">Vol</text>
<text x="884.2" y="39.6" fill="#26a69a" stroke="#26a69a" stroke-width="0.15" textLength="63.7" lengthAdjust="spacingAndGlyphs" style="font-size:16px">79.873K</text>
<text x="27.8" y="65.5" fill="#131722" stroke="#131722" stroke-width="0.15" textLength="28.1" lengthAdjust="spacingAndGlyphs" style="font-size:16px">SAR</text>
<text x="68.1" y="65.5" fill="#3d66d0" stroke="#3d66d0" stroke-width="0.15" textLength="71.5" lengthAdjust="spacingAndGlyphs" style="font-size:16px">33542.56</text>
<text x="27.8" y="91.2" fill="#131722" stroke="#131722" stroke-width="0.15" textLength="19.1" lengthAdjust="spacingAndGlyphs" style="font-size:16px">BB</text>
<text x="59.2" y="91.2" fill="#e8873a" stroke="#e8873a" stroke-width="0.15" textLength="71.2" lengthAdjust="spacingAndGlyphs" style="font-size:16px">29192.98</text>
<text x="142.6" y="91.2" fill="#3d66d0" stroke="#3d66d0" stroke-width="0.15" textLength="71.2" lengthAdjust="spacingAndGlyphs" style="font-size:16px">45432.11</text>
<text x="225.6" y="91.2" fill="#3d66d0" stroke="#3d66d0" stroke-width="0.15" textLength="71.8" lengthAdjust="spacingAndGlyphs" style="font-size:16px">12953.85</text>
<text x="27.8" y="117.3" fill="#131722" stroke="#131722" stroke-width="0.15" textLength="28.1" lengthAdjust="spacingAndGlyphs" style="font-size:16px">SAR</text>
<text x="68.1" y="117.3" fill="#2fbccc" stroke="#2fbccc" stroke-width="0.15" textLength="71.5" lengthAdjust="spacingAndGlyphs" style="font-size:16px">33542.56</text>
<text x="1285.3" y="36.4" fill="#131722" stroke="#131722" stroke-width="0.15" textLength="30.6" lengthAdjust="spacingAndGlyphs" style="font-size:16px">USD</text>
<text x="1285" y="79.9" fill="#131722" stroke="#131722" stroke-width="0.15" textLength="71.3" lengthAdjust="spacingAndGlyphs" style="font-size:16px">70000.00</text>
<text x="1285" y="153.9" fill="#131722" stroke="#131722" stroke-width="0.15" textLength="71.3" lengthAdjust="spacingAndGlyphs" style="font-size:16px">60000.00</text>
<text x="1285" y="227.9" fill="#131722" stroke="#131722" stroke-width="0.15" textLength="71.3" lengthAdjust="spacingAndGlyphs" style="font-size:16px">50000.00</text>
<text x="1285" y="301.59999999999997" fill="#131722" stroke="#131722" stroke-width="0.15" textLength="71.3" lengthAdjust="spacingAndGlyphs" style="font-size:16px">40000.00</text>
<text x="1285" y="375.5" fill="#131722" stroke="#131722" stroke-width="0.15" textLength="71.3" lengthAdjust="spacingAndGlyphs" style="font-size:16px">30000.00</text>
<text x="1285" y="449.4" fill="#131722" stroke="#131722" stroke-width="0.15" textLength="71.3" lengthAdjust="spacingAndGlyphs" style="font-size:16px">20000.00</text>
<text x="1285" y="523.3" fill="#131722" stroke="#131722" stroke-width="0.15" textLength="71.3" lengthAdjust="spacingAndGlyphs" style="font-size:16px">10000.00</text>
<text x="1285" y="597.1999999999999" fill="#131722" stroke="#131722" stroke-width="0.15" textLength="31" lengthAdjust="spacingAndGlyphs" style="font-size:16px">0.00</text>
<path d="M1269.5 243.3 H1364.5 a2.5 2.5 0 0 1 2.5 2.5 V267.1 a2.5 2.5 0 0 1 -2.5 2.5 H1269.5 Z" fill="#2962ff"/>
<text x="1285.6" y="262.6" fill="#fff" stroke="#fff" stroke-width="0.45" textLength="70.7" lengthAdjust="spacingAndGlyphs" style="font-size:16px">45432.11</text>
<path d="M1269.5 305.4 H1364.5 a2.5 2.5 0 0 1 2.5 2.5 V328.8 a2.5 2.5 0 0 1 -2.5 2.5 H1269.5 Z" fill="#2962ff"/>
<text x="1285.6" y="324.5" fill="#fff" stroke="#fff" stroke-width="0.45" textLength="70.7" lengthAdjust="spacingAndGlyphs" style="font-size:16px">33542.56</text>
<path d="M1269.5 331.3 H1364.5 a2.5 2.5 0 0 1 2.5 2.5 V353.9 a2.5 2.5 0 0 1 -2.5 2.5 H1269.5 Z" fill="#26c6da"/>
<text x="1285.6" y="349.8" fill="#0d2b3a" stroke="#0d2b3a" stroke-width="0.45" textLength="70.7" lengthAdjust="spacingAndGlyphs" style="font-size:16px">33542.56</text>
<path d="M1269.5 363 H1364.5 a2.5 2.5 0 0 1 2.5 2.5 V387.5 a2.5 2.5 0 0 1 -2.5 2.5 H1269.5 Z" fill="#ff6d00"/>
<text x="1285.6" y="382.3" fill="#fff" stroke="#fff" stroke-width="0.45" textLength="70.7" lengthAdjust="spacingAndGlyphs" style="font-size:16px">29192.98</text>
<path d="M1269.5 397 H1364.5 a2.5 2.5 0 0 1 2.5 2.5 V442.1 a2.5 2.5 0 0 1 -2.5 2.5 H1269.5 Z" fill="#26a69a"/>
<text x="1285.6" y="416" fill="#fff" stroke="#fff" stroke-width="0.45" textLength="70.7" lengthAdjust="spacingAndGlyphs" style="font-size:16px">24585.39</text>
<text x="1285.6" y="437" fill="#d7f0ec" stroke="#d7f0ec" stroke-width="0.45" textLength="52.5" lengthAdjust="spacingAndGlyphs" style="font-size:16px">3d 18h</text>
<path d="M1269.5 483 H1364.5 a2.5 2.5 0 0 1 2.5 2.5 V507.5 a2.5 2.5 0 0 1 -2.5 2.5 H1269.5 Z" fill="#2962ff"/>
<text x="1285.6" y="502.5" fill="#fff" stroke="#fff" stroke-width="0.45" textLength="70.7" lengthAdjust="spacingAndGlyphs" style="font-size:16px">12953.85</text>
<text x="47.8" y="664.8" fill="#131722" stroke="#131722" stroke-width="0.15" textLength="40.2" lengthAdjust="spacingAndGlyphs" font-weight="bold" text-anchor="middle" style="font-size:16px">2020</text>
<text x="190.1" y="664.8" fill="#131722" stroke="#131722" stroke-width="0.15" textLength="30.3" lengthAdjust="spacingAndGlyphs" text-anchor="middle" style="font-size:16px">May</text>
<text x="341" y="664.8" fill="#131722" stroke="#131722" stroke-width="0.15" textLength="27.5" lengthAdjust="spacingAndGlyphs" text-anchor="middle" style="font-size:16px">Sep</text>
<text x="483.4" y="664.8" fill="#131722" stroke="#131722" stroke-width="0.15" textLength="39.6" lengthAdjust="spacingAndGlyphs" font-weight="bold" text-anchor="middle" style="font-size:16px">2021</text>
<text x="626.1" y="664.8" fill="#131722" stroke="#131722" stroke-width="0.15" textLength="30.3" lengthAdjust="spacingAndGlyphs" text-anchor="middle" style="font-size:16px">May</text>
<text x="777.3" y="664.8" fill="#131722" stroke="#131722" stroke-width="0.15" textLength="27.6" lengthAdjust="spacingAndGlyphs" text-anchor="middle" style="font-size:16px">Sep</text>
<text x="920" y="664.8" fill="#131722" stroke="#131722" stroke-width="0.15" textLength="39.8" lengthAdjust="spacingAndGlyphs" font-weight="bold" text-anchor="middle" style="font-size:16px">2022</text>
<text x="1062.3" y="664.8" fill="#131722" stroke="#131722" stroke-width="0.15" textLength="30.6" lengthAdjust="spacingAndGlyphs" text-anchor="middle" style="font-size:16px">May</text>
<text x="1213.4" y="664.8" fill="#131722" stroke="#131722" stroke-width="0.15" textLength="27.5" lengthAdjust="spacingAndGlyphs" text-anchor="middle" style="font-size:16px">Sep</text>
<g fill="#131722"><rect x="15" y="697" width="12.3" height="5"/><circle cx="31" cy="700" r="2.8"/><path d="M34.5 702 L38.5 697 H44.5 L40.5 702 Z"/></g>
<text x="50" y="713.2" fill="#131722" stroke="#131722" stroke-width="0.15" textLength="110" lengthAdjust="spacingAndGlyphs" style="font-size:20px">TradingView</text>
</svg></body></html>
